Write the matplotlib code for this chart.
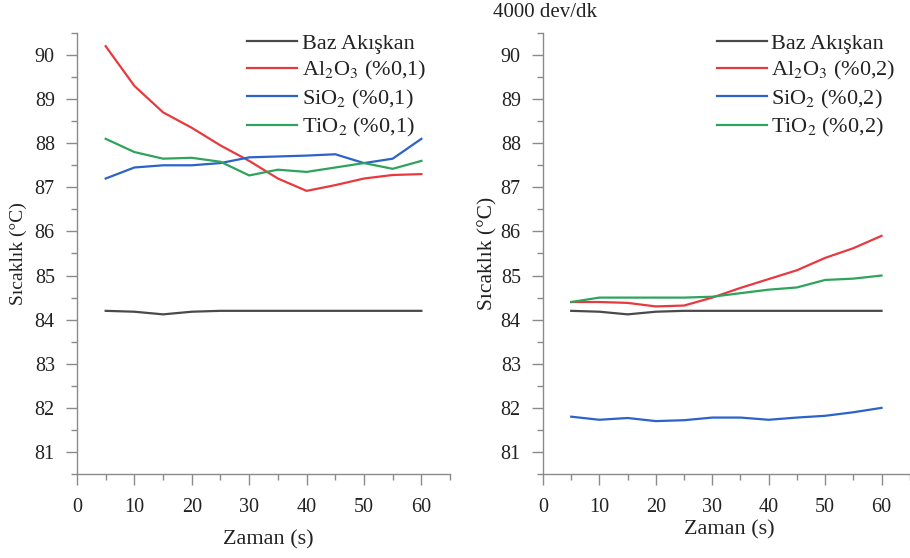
import matplotlib
matplotlib.use("Agg")
import matplotlib.pyplot as plt
from matplotlib.ticker import MultipleLocator

plt.rcParams["font.family"] = ["Liberation Serif", "DejaVu Serif"]
plt.rcParams["mathtext.fontset"] = "stix"

# time (s)
zaman = [5, 10, 15, 20, 25, 30, 35, 40, 45, 50, 55, 60]

# %0,1 panel
baz_1 = [84.20, 84.18, 84.12, 84.18, 84.20, 84.20, 84.20, 84.20, 84.20, 84.20, 84.20, 84.20]
al_1 = [90.20, 89.30, 88.70, 88.35, 87.95, 87.60, 87.20, 86.92, 87.05, 87.20, 87.28, 87.30]
si_1 = [87.20, 87.45, 87.50, 87.50, 87.55, 87.68, 87.70, 87.72, 87.75, 87.55, 87.65, 88.10]
ti_1 = [88.10, 87.80, 87.65, 87.67, 87.58, 87.27, 87.40, 87.35, 87.45, 87.55, 87.42, 87.60]

# %0,2 panel
baz_2 = [84.20, 84.18, 84.12, 84.18, 84.20, 84.20, 84.20, 84.20, 84.20, 84.20, 84.20, 84.20]
al_2 = [84.40, 84.40, 84.38, 84.30, 84.32, 84.50, 84.72, 84.92, 85.12, 85.40, 85.62, 85.90]
si_2 = [81.80, 81.73, 81.77, 81.70, 81.72, 81.78, 81.78, 81.73, 81.78, 81.82, 81.90, 82.00]
ti_2 = [84.40, 84.50, 84.50, 84.50, 84.50, 84.52, 84.60, 84.68, 84.73, 84.90, 84.93, 85.00]

colors = ["#4a4a4a", "#e8393f", "#2b63c8", "#2ea35c"]
ticks_x = [0, 10, 20, 30, 40, 50, 60]
ticks_y = [81, 82, 83, 84, 85, 86, 87, 88, 89, 90]

fig = plt.figure(figsize=(9.1, 5.58), dpi=100)
ax1 = fig.add_axes([0.0846, 0.1505, 0.41, 0.7904])
ax2 = fig.add_axes([0.5967, 0.1505, 0.403, 0.7904])

# axes, series, percent, legend x, ylabel (x, size), xlabel (x, y)
panels = [
    (ax1, [baz_1, al_1, si_1, ti_1], "0,1", 0.456, (-0.134, 14), (0.512, -0.127)),
    (ax2, [baz_2, al_2, si_2, ti_2], "0,2", 0.474, (-0.123, 15.5), (0.507, -0.104)),
]

for ax, series, pct, lx, ylab, xlab in panels:
    labels = [
        "Baz Akışkan",
        r"Al$_2$O$_3$ (%" + pct + ")",
        r"SiO$_2$ (%" + pct + ")",
        r"TiO$_2$ (%" + pct + ")",
    ]
    for vals, c, lab in zip(series, colors, labels):
        ax.plot(zaman, vals, color=c, lw=1.6, label=lab)
    ax.set_xlim(0, 65)
    ax.set_ylim(80.5, 90.5)
    ax.set_xticks(ticks_x)
    ax.set_yticks(ticks_y)
    ax.xaxis.set_minor_locator(MultipleLocator(5))
    ax.yaxis.set_minor_locator(MultipleLocator(0.5))
    for s in ["top", "right"]:
        ax.spines[s].set_visible(False)
    for s in ["left", "bottom"]:
        ax.spines[s].set_color("#8a8a8a")
        ax.spines[s].set_linewidth(1.0)
    ax.tick_params(which="major", direction="out", length=8, width=1, color="#8a8a8a",
                   labelsize=14.5, labelcolor="#222222")
    ax.tick_params(axis="y", which="major", pad=8)
    ax.tick_params(axis="x", which="major", pad=9)
    ax.tick_params(which="minor", direction="out", length=4.5, width=1, color="#8a8a8a")
    ax.set_xlabel("Zaman (s)", fontsize=16, color="#222222")
    ax.xaxis.set_label_coords(xlab[0], xlab[1])
    ax.set_ylabel("Sıcaklık (°C)", fontsize=ylab[1], color="#222222")
    ax.yaxis.set_label_coords(ylab[0], 0.5)
    leg = ax.legend(loc="upper left", bbox_to_anchor=(lx, 1.0), frameon=False, fontsize=16,
                    handlelength=2.25, handletextpad=0.2, labelspacing=0.25,
                    borderpad=0, borderaxespad=0)
    for t in leg.get_texts():
        t.set_color("#222222")

fig.text(0.599, 0.977, "4000 dev/dk", ha="center", va="center", fontsize=15, color="#222222")

fig.savefig("out.png", dpi=100)
